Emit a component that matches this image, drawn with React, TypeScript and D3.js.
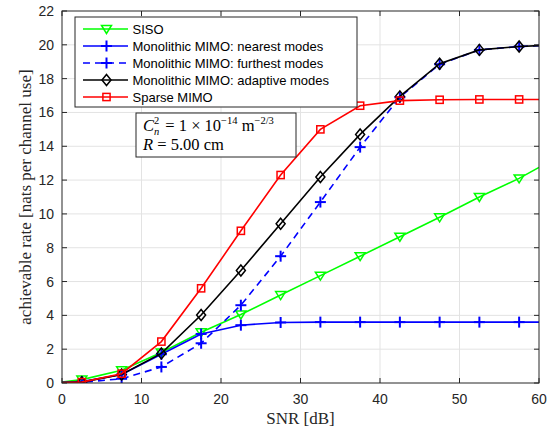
import React from "react";
import * as d3 from "d3";

// SNR sample points in dB (markers sit at 2.5, 7.5, ... 57.5)
const snr = [0, 2.5, 7.5, 12.5, 17.5, 22.5, 27.5, 32.5, 37.5, 42.5, 47.5, 52.5, 57.5, 60];

const siso = [0.05, 0.2, 0.75, 1.8, 3.0, 4.05, 5.2, 6.35, 7.5, 8.65, 9.8, 11.0, 12.1, 12.75];
const nearest = [0.03, 0.08, 0.5, 1.7, 2.9, 3.42, 3.58, 3.6, 3.6, 3.6, 3.6, 3.6, 3.6, 3.6];
const furthest = [0.02, 0.04, 0.25, 0.95, 2.35, 4.6, 7.5, 10.7, 13.95, 16.9, 18.85, 19.7, 19.9, 19.95];
const adaptive = [0.02, 0.05, 0.5, 1.75, 4.02, 6.65, 9.42, 12.18, 14.7, 16.95, 18.88, 19.7, 19.9, 19.95];
const sparse = [0.02, 0.05, 0.55, 2.45, 5.6, 9.0, 12.3, 15.0, 16.4, 16.7, 16.75, 16.77, 16.77, 16.77];

const xTicks = [0, 10, 20, 30, 40, 50, 60];
const yTicks = [0, 2, 4, 6, 8, 10, 12, 14, 16, 18, 20, 22];

type Marker = "triDown" | "plus" | "diamond" | "square";

const seriesList: { name: string; values: number[]; color: string; dash?: string; marker: Marker }[] = [
  { name: "SISO", values: siso, color: "#00ff00", marker: "triDown" },
  { name: "Monolithic MIMO: nearest modes", values: nearest, color: "#0000ff", marker: "plus" },
  { name: "Monolithic MIMO: furthest modes", values: furthest, color: "#0000ff", dash: "7,5", marker: "plus" },
  { name: "Monolithic MIMO: adaptive modes", values: adaptive, color: "#000000", marker: "diamond" },
  { name: "Sparse MIMO", values: sparse, color: "#ff0000", marker: "square" },
];

const W = 557;
const H = 429;
const left = 62;
const right = 539;
const top = 11;
const bottom = 383;

const axisColor = "#262626";
const sansFont = "'Liberation Sans', Arial, sans-serif";
const serifFont = "'Liberation Serif', 'Times New Roman', serif";

function MarkerShape({ kind, x, y, color }: { kind: Marker; x: number; y: number; color: string }) {
  const sw = 1.5;
  if (kind === "triDown") {
    const p = d3.path();
    p.moveTo(x - 5, y - 3.5);
    p.lineTo(x + 5, y - 3.5);
    p.lineTo(x, y + 4.5);
    p.closePath();
    return <path d={p.toString()} fill="none" stroke={color} strokeWidth={sw} />;
  }
  if (kind === "plus") {
    return (
      <g stroke={color} strokeWidth={2}>
        <line x1={x - 5.5} x2={x + 5.5} y1={y} y2={y} />
        <line x1={x} x2={x} y1={y - 5.5} y2={y + 5.5} />
      </g>
    );
  }
  if (kind === "diamond") {
    const p = d3.path();
    p.moveTo(x, y - 5.5);
    p.lineTo(x + 4.5, y);
    p.lineTo(x, y + 5.5);
    p.lineTo(x - 4.5, y);
    p.closePath();
    return <path d={p.toString()} fill="none" stroke={color} strokeWidth={sw} />;
  }
  return <rect x={x - 3.6} y={y - 3.6} width={7.2} height={7.2} fill="none" stroke={color} strokeWidth={sw} />;
}

export default function App() {
  const x = d3.scaleLinear().domain([0, 60]).range([left, right]);
  const y = d3.scaleLinear().domain([0, 22]).range([bottom, top]);

  const line = d3
    .line<number>()
    .x((_, i) => x(snr[i]))
    .y((d) => y(d));

  const legendX = 75;
  const legendY = 17;
  const legendW = 282;
  const legendH = 90;
  const rowH = 17;

  return (
    <svg
      width={W}
      height={H}
      style={{ position: "absolute", left: 0, top: 0, background: "#fff" }}
      xmlns="http://www.w3.org/2000/svg"
    >
      <rect x={0} y={0} width={W} height={H} fill="#fff" />

      {/* grid */}
      <g stroke="#e3e3e3" strokeWidth={1}>
        {xTicks.slice(1, -1).map((t) => (
          <line key={"gx" + t} x1={x(t)} x2={x(t)} y1={top} y2={bottom} />
        ))}
        {yTicks.slice(1, -1).map((t) => (
          <line key={"gy" + t} x1={left} x2={right} y1={y(t)} y2={y(t)} />
        ))}
      </g>

      {/* series */}
      <defs>
        <clipPath id="plotArea">
          <rect x={left} y={top} width={right - left} height={bottom - top} />
        </clipPath>
      </defs>
      <g clipPath="url(#plotArea)">
        {seriesList.map((s) => (
          <g key={s.name}>
            <path
              d={line(s.values) ?? ""}
              fill="none"
              stroke={s.color}
              strokeWidth={1.6}
              strokeDasharray={s.dash}
            />
            {s.values.map((v, i) =>
              i === 0 || i === s.values.length - 1 ? null : (
                <MarkerShape key={i} kind={s.marker} x={x(snr[i])} y={y(v)} color={s.color} />
              )
            )}
          </g>
        ))}
      </g>

      {/* axes box and ticks */}
      <rect x={left} y={top} width={right - left} height={bottom - top} fill="none" stroke={axisColor} strokeWidth={1} />
      <g stroke={axisColor} strokeWidth={1}>
        {xTicks.map((t) => (
          <g key={"tx" + t}>
            <line x1={x(t)} x2={x(t)} y1={bottom} y2={bottom - 5} />
            <line x1={x(t)} x2={x(t)} y1={top} y2={top + 5} />
          </g>
        ))}
        {yTicks.map((t) => (
          <g key={"ty" + t}>
            <line x1={left} x2={left + 5} y1={y(t)} y2={y(t)} />
            <line x1={right} x2={right - 5} y1={y(t)} y2={y(t)} />
          </g>
        ))}
      </g>
      <g fill={axisColor} fontFamily={sansFont} fontSize={14}>
        {xTicks.map((t) => (
          <text key={"lx" + t} x={x(t)} y={bottom + 20.5} textAnchor="middle">
            {t}
          </text>
        ))}
        {yTicks.map((t) => (
          <text key={"ly" + t} x={left - 8} y={y(t) + 5} textAnchor="end">
            {t}
          </text>
        ))}
      </g>

      {/* axis titles */}
      <text x={(left + right) / 2} y={424} textAnchor="middle" fontFamily={serifFont} fontSize={17} fill={axisColor}>
        SNR [dB]
      </text>
      <text
        transform={`translate(${31},${(top + bottom) / 2}) rotate(-90)`}
        textAnchor="middle"
        fontFamily={serifFont}
        fontSize={17}
        fill={axisColor}
      >
        achievable rate [nats per channel use]
      </text>

      {/* legend */}
      <rect x={legendX} y={legendY} width={legendW} height={legendH} fill="#fff" stroke={axisColor} strokeWidth={1} />
      {seriesList.map((s, i) => {
        const cy = legendY + 12 + i * rowH;
        return (
          <g key={"lg" + s.name}>
            <line
              x1={legendX + 8}
              x2={legendX + 53}
              y1={cy}
              y2={cy}
              stroke={s.color}
              strokeWidth={1.6}
              strokeDasharray={s.dash}
            />
            <MarkerShape kind={s.marker} x={legendX + 31.5} y={cy} color={s.color} />
            <text x={legendX + 57.5} y={cy + 4.8} fontFamily={sansFont} fontSize={13} fill="#000">
              {s.name}
            </text>
          </g>
        );
      })}

      {/* parameter annotation */}
      <rect x={136} y={113} width={160} height={44} fill="#fff" stroke={axisColor} strokeWidth={1} />
      <text x={143} y={131} fontFamily={serifFont} fontSize={16.5} fill="#000">
        <tspan fontStyle="italic">C</tspan>
        <tspan fontSize={10.5} dy={3.5} fontStyle="italic">n</tspan>
        <tspan fontSize={10.5} dy={-10.5} dx={-5.3}>2</tspan>
        <tspan dy={7} dx={2}>{" = 1 × 10"}</tspan>
        <tspan fontSize={10.5} dy={-7}>−14</tspan>
        <tspan dy={7}>{"  m"}</tspan>
        <tspan fontSize={10.5} dy={-7}>−2/3</tspan>
      </text>
      <text x={143} y={150} fontFamily={serifFont} fontSize={16.5} fill="#000">
        <tspan fontStyle="italic">R</tspan>
        <tspan>{" = 5.00 cm"}</tspan>
      </text>
    </svg>
  );
}
